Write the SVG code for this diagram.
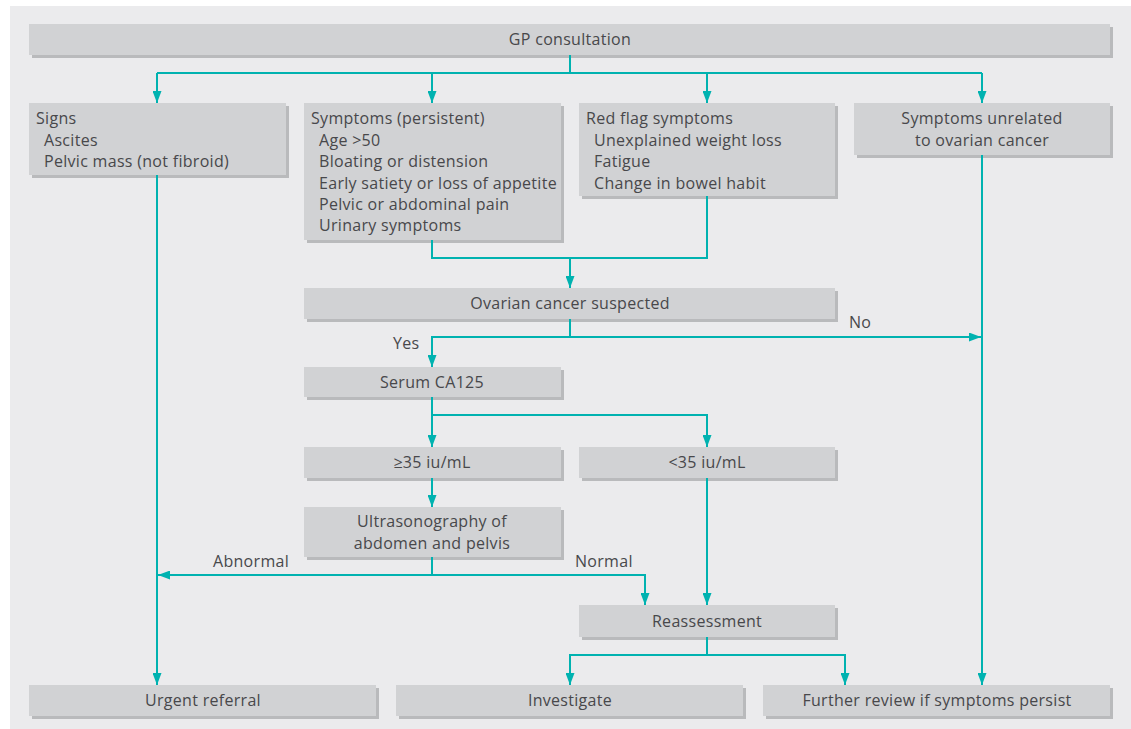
<svg xmlns="http://www.w3.org/2000/svg" width="1131" height="729" viewBox="0 0 1131 729">
<style>
.bg{fill:#ebebed}
.sh{fill:#b9babc}
.bx{fill:#d1d2d4}
text{font-family:"Open Sans","Noto Sans","Liberation Sans",sans-serif;font-size:16px;letter-spacing:0.3px;fill:#48484b}
.c{text-anchor:middle}
.ln{fill:none;stroke:#00b2b0;stroke-width:2}
.ar{marker-end:url(#ah)}
</style>
<defs>
<marker id="ah" markerUnits="userSpaceOnUse" markerWidth="12" markerHeight="9" refX="12" refY="4.5" orient="auto">
<path d="M0,0 L12,4.5 L0,9 z" fill="#00b2b0"/>
</marker>
</defs>
<rect x="0" y="0" width="1131" height="729" fill="#ffffff"/>
<rect class="bg" x="10" y="6" width="1121" height="723"/>

<g id="gp">
<rect class="sh" x="32" y="27" width="1081" height="31"/>
<rect class="bx" x="29" y="24" width="1081" height="31"/>
<text class="c" x="570" y="45">GP consultation</text>
</g>
<g id="signs">
<rect class="sh" x="32" y="106" width="257" height="72"/>
<rect class="bx" x="29" y="103" width="257" height="72"/>
<text x="36" y="124">Signs</text>
<text x="44" y="146">Ascites</text>
<text x="44" y="167">Pelvic mass (not fibroid)</text>
</g>
<g id="symptoms">
<rect class="sh" x="307" y="106" width="257" height="137"/>
<rect class="bx" x="304" y="103" width="257" height="137"/>
<text x="311" y="124">Symptoms (persistent)</text>
<text x="319" y="146">Age &gt;50</text>
<text x="319" y="167">Bloating or distension</text>
<text x="319" y="189">Early satiety or loss of appetite</text>
<text x="319" y="210">Pelvic or abdominal pain</text>
<text x="319" y="231">Urinary symptoms</text>
</g>
<g id="redflag">
<rect class="sh" x="582" y="106" width="256" height="93"/>
<rect class="bx" x="579" y="103" width="256" height="93"/>
<text x="586" y="124">Red flag symptoms</text>
<text x="594" y="146">Unexplained weight loss</text>
<text x="594" y="167">Fatigue</text>
<text x="594" y="189">Change in bowel habit</text>
</g>
<g id="unrelated">
<rect class="sh" x="857" y="106" width="256" height="52"/>
<rect class="bx" x="854" y="103" width="256" height="52"/>
<text class="c" x="982" y="124">Symptoms unrelated</text>
<text class="c" x="982" y="146">to ovarian cancer</text>
</g>
<g id="suspected">
<rect class="sh" x="307" y="291" width="531" height="31"/>
<rect class="bx" x="304" y="288" width="531" height="31"/>
<text class="c" x="570" y="309">Ovarian cancer suspected</text>
</g>
<g id="serum">
<rect class="sh" x="307" y="370" width="257" height="30"/>
<rect class="bx" x="304" y="367" width="257" height="30"/>
<text class="c" x="432" y="388">Serum CA125</text>
</g>
<g id="ge35">
<rect class="sh" x="307" y="450" width="257" height="31"/>
<rect class="bx" x="304" y="447" width="257" height="31"/>
<text class="c" x="432" y="468">≥35 iu/mL</text>
</g>
<g id="lt35">
<rect class="sh" x="582" y="450" width="256" height="31"/>
<rect class="bx" x="579" y="447" width="256" height="31"/>
<text class="c" x="707" y="468">&lt;35 iu/mL</text>
</g>
<g id="ultrasound">
<rect class="sh" x="307" y="510" width="257" height="50"/>
<rect class="bx" x="304" y="507" width="257" height="50"/>
<text class="c" x="432" y="527">Ultrasonography of</text>
<text class="c" x="432" y="549">abdomen and pelvis</text>
</g>
<g id="reassessment">
<rect class="sh" x="582" y="608" width="256" height="32"/>
<rect class="bx" x="579" y="605" width="256" height="32"/>
<text class="c" x="707" y="627">Reassessment</text>
</g>
<g id="urgent">
<rect class="sh" x="32" y="688" width="347" height="31"/>
<rect class="bx" x="29" y="685" width="347" height="31"/>
<text class="c" x="203" y="706">Urgent referral</text>
</g>
<g id="investigate">
<rect class="sh" x="399" y="688" width="347" height="31"/>
<rect class="bx" x="396" y="685" width="347" height="31"/>
<text class="c" x="570" y="706">Investigate</text>
</g>
<g id="further">
<rect class="sh" x="766" y="688" width="347" height="31"/>
<rect class="bx" x="763" y="685" width="347" height="31"/>
<text class="c" x="937" y="706">Further review if symptoms persist</text>
</g>

<g id="connectors">
<path class="ln" d="M570,55 V73 H982"/>
<path class="ln" d="M570,73 H157"/>
<path class="ln ar" d="M157,73 V103"/>
<path class="ln ar" d="M432,73 V103"/>
<path class="ln ar" d="M707,73 V103"/>
<path class="ln ar" d="M982,73 V103"/>
<path class="ln ar" d="M157,175 V685"/>
<path class="ln" d="M432,240 V258 H707 V196"/>
<path class="ln ar" d="M570,258 V288"/>
<path class="ln ar" d="M570,319 V337 H432 V367"/>
<path class="ln ar" d="M570,337 H981"/>
<path class="ln ar" d="M982,155 V685"/>
<path class="ln ar" d="M432,397 V447"/>
<path class="ln ar" d="M432,415 H707 V447"/>
<path class="ln ar" d="M432,478 V507"/>
<path class="ln ar" d="M432,557 V575 H158"/>
<path class="ln ar" d="M432,575 H645 V605"/>
<path class="ln ar" d="M707,478 V605"/>
<path class="ln ar" d="M707,637 V655 H570 V685"/>
<path class="ln ar" d="M707,655 H845 V685"/>
<text x="393" y="349">Yes</text>
<text x="849" y="328">No</text>
<text x="213" y="567">Abnormal</text>
<text x="575" y="567">Normal</text>
</g>
</svg>
